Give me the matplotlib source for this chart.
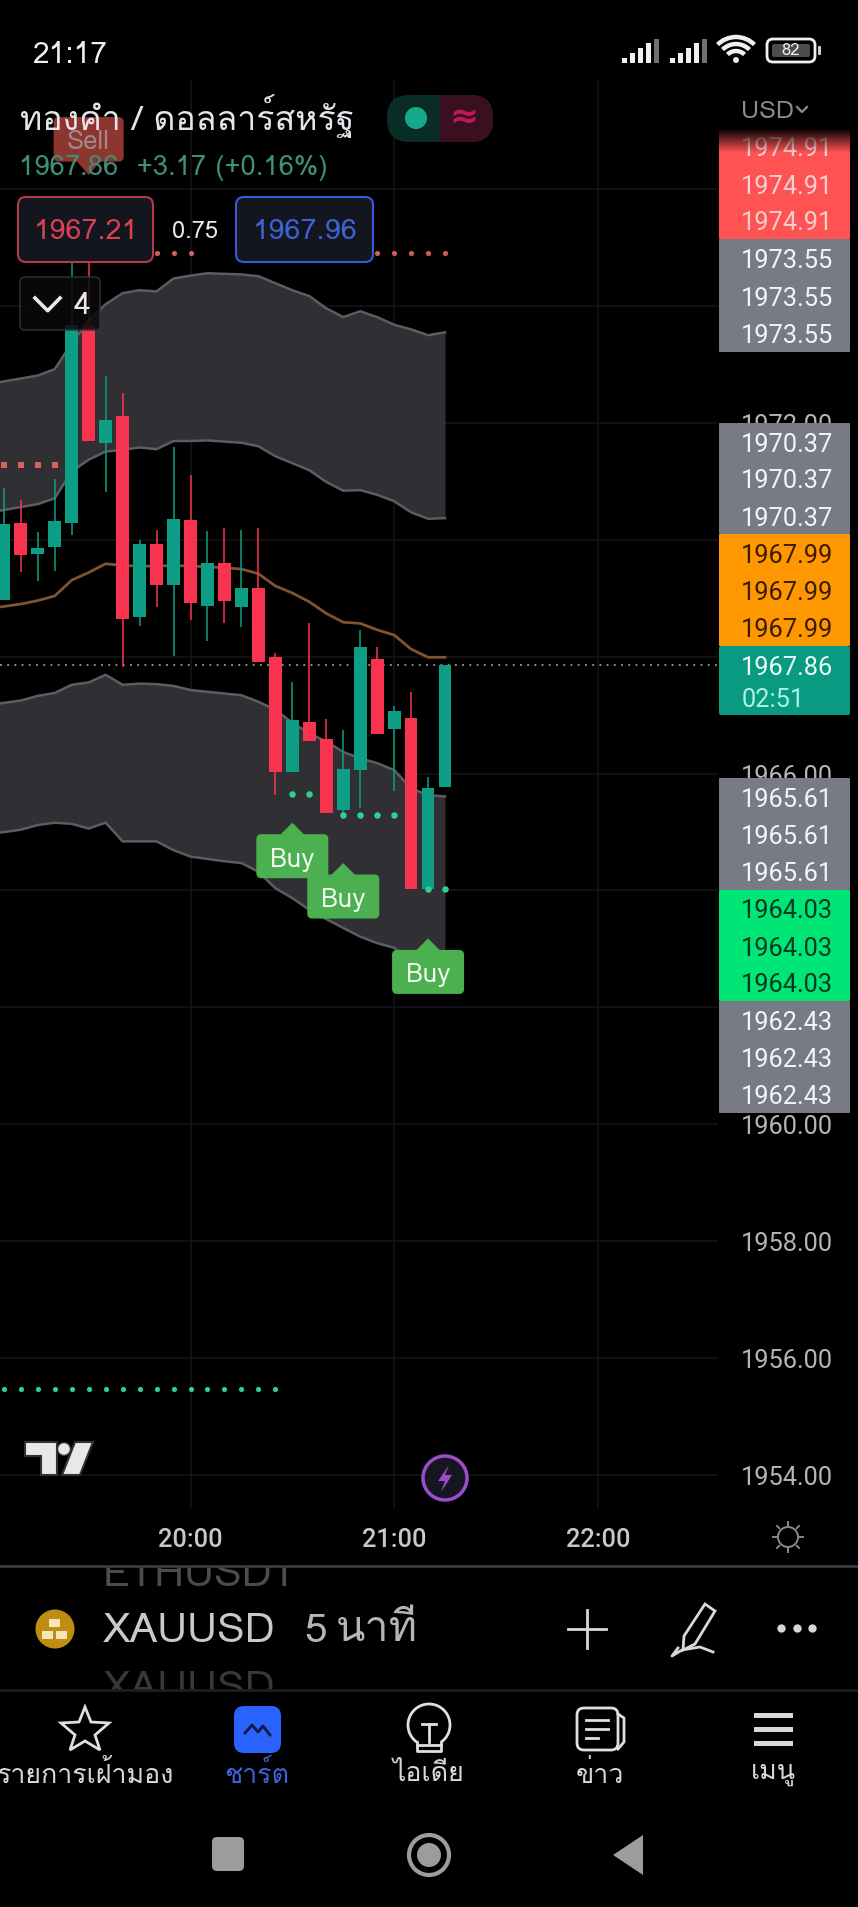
import matplotlib
matplotlib.use("Agg")
import matplotlib.pyplot as plt
from matplotlib import font_manager as fm
from matplotlib.patches import Rectangle, FancyBboxPatch, Circle, Polygon, Arc
from matplotlib.ft2font import FT2Font

# bars are counted from the 20:00 candle, one bar = 5 minutes
bar_idx = list(range(-11, 16))
band_bars = list(range(-12, 16))

opens = [1968.97, 1970.29, 1969.76, 1969.88, 1970.29, 1973.68, 1971.66, 1972.11, 1968.68,
         1969.92, 1969.22, 1970.34, 1968.86, 1969.61, 1968.85, 1969.17, 1968.00, 1966.03,
         1966.88, 1966.59, 1965.38, 1966.06, 1967.96, 1966.77, 1966.95, 1964.03, 1965.77]
closes = [1970.27, 1969.74, 1969.86, 1970.32, 1973.68, 1971.69, 1972.05, 1968.65, 1969.93,
          1969.23, 1970.36, 1968.92, 1969.60, 1968.95, 1969.17, 1967.91, 1966.03, 1966.91,
          1966.56, 1965.33, 1966.08, 1968.17, 1966.68, 1967.07, 1964.03, 1965.76, 1967.86]
highs = [1970.89, 1970.68, 1970.14, 1971.04, 1974.75, 1974.75, 1972.80, 1972.51, 1970.00,
         1970.17, 1971.59, 1971.11, 1970.15, 1970.20, 1970.17, 1970.20, 1968.06, 1967.57,
         1968.57, 1966.93, 1966.75, 1968.46, 1968.17, 1967.16, 1967.39, 1965.94, 1967.86]
lows = [1968.97, 1969.45, 1969.30, 1969.47, 1970.08, 1971.69, 1970.81, 1967.83, 1968.53,
        1968.85, 1968.01, 1968.63, 1968.27, 1968.58, 1968.51, 1967.91, 1965.63, 1966.03,
        1966.56, 1965.33, 1965.29, 1965.41, 1966.68, 1965.71, 1964.03, 1964.03, 1965.77]

band_1 = [1972.66, 1972.71, 1972.76, 1972.81, 1972.92, 1973.36, 1973.75, 1974.03, 1974.22, 1974.27,
          1974.25, 1974.47, 1974.52, 1974.56, 1974.55, 1974.54, 1974.51, 1974.39, 1974.27,
          1974.17, 1973.96, 1973.81, 1973.91, 1973.81, 1973.68, 1973.60, 1973.50, 1973.55]
band_2 = [1970.46, 1970.51, 1970.56, 1970.61, 1970.71, 1971.17, 1971.37, 1971.51, 1971.54, 1971.58,
          1971.55, 1971.69, 1971.69, 1971.70, 1971.68, 1971.66, 1971.60, 1971.43, 1971.31,
          1971.19, 1970.99, 1970.84, 1970.85, 1970.77, 1970.66, 1970.47, 1970.36, 1970.37]
mid_line = [1968.82, 1968.86, 1968.90, 1968.96, 1969.04, 1969.31, 1969.44, 1969.59, 1969.56, 1969.55,
            1969.55, 1969.56, 1969.55, 1969.54, 1969.52, 1969.50, 1969.42, 1969.21, 1969.09,
            1968.94, 1968.74, 1968.59, 1968.57, 1968.46, 1968.37, 1968.13, 1967.99, 1967.99]
band_3 = [1967.17, 1967.21, 1967.25, 1967.33, 1967.38, 1967.52, 1967.56, 1967.69, 1967.52, 1967.54,
          1967.53, 1967.50, 1967.43, 1967.40, 1967.37, 1967.34, 1967.23, 1967.09, 1966.87,
          1966.69, 1966.55, 1966.37, 1966.26, 1966.18, 1966.06, 1965.75, 1965.63, 1965.61]
band_4 = [1964.96, 1965.00, 1965.04, 1965.12, 1965.16, 1965.14, 1965.06, 1965.16, 1964.84, 1964.84,
          1964.84, 1964.69, 1964.58, 1964.54, 1964.50, 1964.47, 1964.32, 1964.04, 1963.87,
          1963.67, 1963.51, 1963.36, 1963.21, 1963.10, 1963.02, 1962.81, 1962.61, 1962.43]

red_dot_bars = [-11, -10, -9, -8]
red_dot_price = 1971.28
red_top_bars = [-4, -3, -2, -1, 0, 11, 12, 13, 14, 15]
red_top_price = 1974.91
green_dots = [(6, 1965.65), (7, 1965.65), (9, 1965.30), (10, 1965.30), (11, 1965.30), (12, 1965.30),
              (14, 1964.03), (15, 1964.03)]
low_dot_bars = list(range(-11, 6))
low_dot_price = 1955.47

buy_bars = [6, 9, 14]
buy_prices = [1965.16, 1964.47, 1963.18]
sell_bar = -6
sell_price = 1976.24

y_ticks = [1976, 1974, 1972, 1970, 1968, 1966, 1964, 1962, 1960, 1958, 1956, 1954]
y_labels = {1972: "1972.00", 1966: "1966.00", 1960: "1960.00", 1958: "1958.00", 1956: "1956.00", 1954: "1954.00"}
hour_bars = [0, 12, 24]
hour_labels = ["20:00", "21:00", "22:00"]
last_price = 1967.86

# price scale blocks: text, three rows each
tag_text = ["1974.91", "1973.55", "1970.37", "1967.99", "1965.61", "1964.03", "1962.43"]
tag_colors = ["#ff5252", "#787b86", "#787b86", "#ff9800", "#787b86", "#00e676", "#787b86"]
tag_ink = ["#f5d0d0", "#f4f4f6", "#f4f4f6", "#3a1c00", "#f4f4f6", "#063a20", "#f4f4f6"]
tag_top = [128, 239, 423, 534, 778, 890, 1001]
tag_bottom = [239, 352, 534, 646, 890, 1001, 1113]

UP = "#0e9e85"
DOWN = "#f7334f"
GRID = "#141416"
BAND = "#2f2f34"
BAND_LINE = "#5c5c62"
BUY = "#4caf50"
SELL = "#8f3530"
TEXT_DY = 3  # digits sit a little high with va=center


def find_thai_font():
    for f in fm.fontManager.ttflist:
        try:
            if 0x0E17 in FT2Font(f.fname).get_charmap():
                return f.name
        except Exception:
            pass
    return None


thai = find_thai_font()
latin = ["Roboto", "DejaVu Sans"]
fonts = ([thai] if thai else []) + latin
plt.rcParams["font.family"] = latin

W, H = 858, 1907
fig = plt.figure(figsize=(W / 100, H / 100), dpi=100, facecolor="black")

# chart axes: bar index / price, the scale is set so it lines up with the screenshot
STEP = 16.97
PX_PER_UNIT = 58.45
ax = fig.add_axes([0, 0, 1, 1], zorder=1)
ax.set_xlim((0 - 190.5) / STEP, (W - 190.5) / STEP)
ax.set_ylim(1954 - (H - 1475) / PX_PER_UNIT, 1954 + 1475 / PX_PER_UNIT)
ax.axis("off")
right_edge = (718 - 190.5) / STEP

for p in y_ticks:
    ax.hlines(p, ax.get_xlim()[0], right_edge, color=GRID, lw=1.2, zorder=1)
for b in hour_bars:
    ax.vlines(b, 1954 - 33 / PX_PER_UNIT, 1954 + 1395 / PX_PER_UNIT, color=GRID, lw=1.2, zorder=1)

ax.fill_between(band_bars, band_1, band_2, color=BAND, lw=0, zorder=2)
ax.fill_between(band_bars, band_3, band_4, color=BAND, lw=0, zorder=2)
for band in [band_1, band_2, band_3, band_4]:
    ax.plot(band_bars, band, color=BAND_LINE, lw=1.8, zorder=3)
ax.plot(band_bars, mid_line, color="#7f5430", lw=2, zorder=3)
ax.hlines(last_price, ax.get_xlim()[0], right_edge, color="#9a9a9a", lw=1.3, linestyles=(0, (1, 3)), zorder=3)

for i, o, c, hi, lo in zip(bar_idx, opens, closes, highs, lows):
    col = UP if c >= o else DOWN
    ax.vlines(i, lo, hi, color=col, lw=1.3, alpha=0.85, zorder=4)
    ax.bar(i, abs(c - o), bottom=min(o, c), width=0.75, color=col, lw=0, zorder=5)

ax.scatter(red_dot_bars, [red_dot_price] * len(red_dot_bars), s=16, marker="s", color="#d9605c", lw=0, zorder=6)
ax.scatter(red_top_bars, [red_top_price] * len(red_top_bars), s=14, color="#c9605c", lw=0, zorder=6)
ax.scatter([d[0] for d in green_dots], [d[1] for d in green_dots], s=22, color="#2fd08f", lw=0, zorder=6)
ax.scatter(low_dot_bars, [low_dot_price] * len(low_dot_bars), s=14, color="#2fd08f", lw=0, zorder=6)

# screen furniture in plain screenshot pixels on top of the chart
ui = fig.add_axes([0, 0, 1, 1], zorder=2)
ui.set_xlim(0, W)
ui.set_ylim(H, 0)
ui.axis("off")
ui.patch.set_alpha(0)


def bar_px(b):
    return 190.5 + b * STEP


def price_px(p):
    return 1475 - (p - 1954) * PX_PER_UNIT


def txt(x, y, s, size, color="#e6e6e6", ha="left", weight="normal", z=10, fam=None):
    return ui.text(x, y, s, fontsize=size, color=color, ha=ha, va="center", fontweight=weight,
                   zorder=z, family=fam or fonts)


def rbox(x0, y0, x1, y1, r=4, fc="none", ec="none", lw=1.5, z=9, alpha=None):
    ui.add_patch(FancyBboxPatch((x0 + r, y0 + r), x1 - x0 - 2 * r, y1 - y0 - 2 * r,
                                boxstyle=f"round,pad={r},rounding_size={r}", fc=fc, ec=ec, lw=lw, zorder=z, alpha=alpha))


# buy and sell flags hang off the bar and price they belong to
for b, p in zip(buy_bars, buy_prices):
    cx, tip = bar_px(b), price_px(p)
    ui.add_patch(Polygon([(cx, tip), (cx + 12, tip + 12), (cx - 12, tip + 12)], fc=BUY, lw=0, zorder=7))
    rbox(cx - 36, tip + 11.5, cx + 36, tip + 55.5, r=5, fc=BUY, z=7)
    txt(cx, tip + 37, "Buy", 18.5, "#f2faf2", ha="center", z=8)
sx, stip = bar_px(sell_bar), price_px(sell_price)
ui.add_patch(Polygon([(sx, stip), (sx + 12, stip - 14), (sx - 12, stip - 14)], fc=SELL, lw=0, zorder=6))
rbox(sx - 35, stip - 58, sx + 35, stip - 13.5, r=5, fc=SELL, z=6)
txt(sx, stip - 33, "Sell", 18.5, "#a08a88", ha="center", z=6.5)

# price scale
for p, s in y_labels.items():
    ui.text(833, price_px(p) + TEXT_DY, s, fontsize=18.3, color="#b4b4b4", ha="right", va="center", zorder=7)
for s, col, ink, t, b in zip(tag_text, tag_colors, tag_ink, tag_top, tag_bottom):
    rbox(719, t, 850, b, r=1, fc=col, z=8)
    row = (b - t) / 3
    for k in range(3):
        ui.text(833, t + row * (k + 0.5) + TEXT_DY, s, fontsize=18.3, color=ink, ha="right", va="center", zorder=9)
# the top tag fades away under the header
for k in range(24):
    ui.add_patch(Rectangle((717, 128 + k), 135, 1.2, fc="black", alpha=1 - k / 24, lw=0, zorder=9.5))
rbox(719, 646, 850, 715, r=2, fc="#0a9981", z=8)
ui.text(833, 665 + TEXT_DY, "1967.86", fontsize=18.3, color="#e9fbf6", ha="right", va="center", zorder=9)
ui.text(742, 697 + TEXT_DY, "02:51", fontsize=18.3, color="#a6f5e0", ha="left", va="center", zorder=9)
txt(741, 108 + TEXT_DY, "USD", 18, "#8c8c8c")
ui.plot([797, 802, 807], [107, 112, 107], color="#8c8c8c", lw=1.6, zorder=10)

# time axis
for b, s in zip(hour_bars, hour_labels):
    ui.text(bar_px(b), 1537 + TEXT_DY, s, fontsize=18.3, color="#c8c8c8", ha="center", va="center", fontweight="medium", zorder=7)
ui.add_patch(Circle((788, 1537), 10, fc="none", ec="#8a8a8a", lw=1.4, zorder=7))
for dx, dy in [(0, -15), (0, 15), (15, 0), (-15, 0), (11, -11), (-11, -11), (11, 11), (-11, 11)]:
    ui.plot([788 + dx * 0.8, 788 + dx], [1537 + dy * 0.8, 1537 + dy], color="#8a8a8a", lw=1.4, zorder=7)

# status bar
txt(32, 52 + TEXT_DY, "21:17", 21.5, "#f0f0f0", weight="medium")
for x0 in [622, 670]:
    for k, h in enumerate([5, 10, 15, 20, 24]):
        col = "#f0f0f0" if k < 4 else "#707070"
        ui.add_patch(Rectangle((x0 + k * 8, 63 - h), 5, h, fc=col, lw=0, zorder=10))
for r in [7, 14, 21]:
    ui.add_patch(Arc((736, 63), 2 * r + 10, 2 * r + 10, theta1=225, theta2=315, ec="#f0f0f0", lw=3.2, zorder=10))
ui.add_patch(Circle((736, 60), 3, fc="#f0f0f0", lw=0, zorder=10))
rbox(767, 39, 815, 62, r=6, ec="#f0f0f0", lw=2, z=10)
rbox(772, 44, 810, 57, r=2, fc="#4c4c4c", z=10)
txt(791, 51, "82", 12, "#f0f0f0", ha="center", z=11)
rbox(818, 46, 821, 55, r=1, fc="#d0d0d0", z=10)

# header
txt(20, 116, "ทองคำ / ดอลลาร์สหรัฐ", 24.4, "#e4e4ea", z=9)
txt(19, 165 + TEXT_DY, "1967.86  +3.17 (+0.16%)", 19.8, "#3f8f78", z=9)
rbox(387, 95, 493, 142, r=22, fc="#0a2c27", z=9)
ui.add_patch(Rectangle((440, 95), 31, 47, fc="#3a0f20", lw=0, zorder=9))
rbox(445, 95, 493, 142, r=22, fc="#3a0f20", z=9)
ui.add_patch(Circle((416, 118), 11, fc="#14ab8c", lw=0, zorder=10))
txt(464, 118, "≈", 25, "#c2185b", ha="center", weight="bold", fam=["DejaVu Sans"])

rbox(18, 197, 153, 262, r=8, fc="#13151f", ec="#b33c46", lw=1.5)
txt(86, 229 + TEXT_DY, "1967.21", 20.8, "#d9414f", ha="center")
txt(195, 229 + TEXT_DY, "0.75", 17, "#ececec", ha="center")
rbox(236, 197, 373, 262, r=8, fc="#13151f", ec="#3a5bd0", lw=1.5)
txt(305, 229 + TEXT_DY, "1967.96", 20.8, "#3a63d6", ha="center")
rbox(20, 277, 100, 330, r=5, fc="#0a0a0a", ec="#333338", lw=1.2, alpha=0.85)
ui.plot([35, 47.7, 60], [298, 310.7, 298], color="#e8e8e8", lw=2.6, zorder=10)
txt(82, 303 + TEXT_DY, "4", 22, "#e8e8e8", ha="center")

# logo and lightning badge
ui.add_patch(Polygon([(25, 1442), (57, 1442), (57, 1475), (41, 1475), (41, 1456), (25, 1456)], fc="#e8e8e8", ec="#30303a", lw=1.5, zorder=7))
ui.add_patch(Circle((64, 1449), 6.5, fc="#e8e8e8", ec="#30303a", lw=1, zorder=7))
ui.add_patch(Polygon([(75, 1442), (93, 1442), (80, 1475), (62, 1475)], fc="#e8e8e8", ec="#30303a", lw=1.5, zorder=7))
ui.add_patch(Circle((445, 1478), 22, fc="#161620", ec="#9c4dcc", lw=2.5, zorder=7))
ui.add_patch(Polygon([(449, 1465), (438, 1481), (445, 1481), (441, 1492), (452, 1475), (445, 1475)], fc="#9c4dcc", lw=0, zorder=8))

# symbol bar
ui.plot([0, W], [1566, 1566], color="#3a3a46", lw=2, zorder=6)
txt(103, 1576, "ETHUSDT", 29.8, "#4c4c4c", weight="medium", z=3)
ui.add_patch(Rectangle((0, 1550), W, 15.5, fc="black", lw=0, zorder=4))
txt(103, 1690, "XAUUSD", 29.8, "#383838", weight="medium", z=3)
ui.add_patch(Rectangle((0, 1690), W, 20, fc="black", lw=0, zorder=4))
ui.plot([0, W], [1690, 1690], color="#1e1e22", lw=2, zorder=6)
ui.add_patch(Circle((55, 1629), 19.5, fc="#c08d12", lw=0, zorder=7))
for x0, y0 in [(49, 1619), (42, 1631), (56, 1631)]:
    ui.add_patch(Rectangle((x0, y0), 11, 8, fc="#f5e6b8", lw=0, zorder=8))
txt(103, 1629 + TEXT_DY, "XAUUSD", 29.8, "#c9c9c9", weight="medium")
txt(304, 1629 + TEXT_DY, "5", 29, "#b5b5b5", weight="medium")
txt(336, 1630, "นาที", 31, "#b5b5b5")
ui.plot([568, 606], [1629, 1629], color="#d8d8d8", lw=2, zorder=10)
ui.plot([587, 587], [1610, 1648], color="#d8d8d8", lw=2, zorder=10)
ui.add_patch(Polygon([(705, 1604), (715, 1611), (695, 1644), (683, 1650), (684, 1636)], fc="none", ec="#d8d8d8", lw=2, zorder=10))
ui.plot([678, 672, 682, 700, 713], [1648, 1656, 1650, 1647, 1652], color="#d8d8d8", lw=2, zorder=10)
ui.scatter([781, 797, 812], [1628, 1628, 1628], s=36, color="#d8d8d8", lw=0, zorder=10)

# bottom nav
star = [(85, 1707), (91, 1722), (109, 1723), (95, 1735), (100, 1750), (85, 1741), (70, 1750), (75, 1735), (61, 1723), (79, 1722)]
ui.add_patch(Polygon(star, fc="none", ec="#e0e0e0", lw=2, zorder=10))
rbox(234, 1706, 281, 1753, r=10, fc="#2962ff", z=10)
ui.plot([245, 252, 258, 263, 270], [1733, 1725, 1732, 1726, 1735], color="#101a40", lw=2, zorder=11)
ui.add_patch(Arc((429, 1725), 42, 42, theta1=125, theta2=55, ec="#e0e0e0", lw=2, zorder=10))
ui.plot([417, 417, 441, 441], [1742, 1751, 1751, 1742], color="#e0e0e0", lw=2, zorder=10)
ui.plot([417, 441], [1745, 1745], color="#e0e0e0", lw=2, zorder=10)
ui.plot([422, 436], [1724, 1724], color="#e0e0e0", lw=2, zorder=10)
ui.plot([429, 429], [1724, 1742], color="#e0e0e0", lw=2, zorder=10)
rbox(577, 1708, 618, 1750, r=7, ec="#e0e0e0", lw=2, z=10)
ui.plot([618, 624, 624, 618], [1714, 1718, 1742, 1749], color="#e0e0e0", lw=2, zorder=10)
for y0, x1 in [(1720, 608), (1729, 608), (1738, 598)]:
    ui.plot([586, x1], [y0, y0], color="#e0e0e0", lw=2, zorder=10)
for y0 in [1715, 1729, 1743]:
    ui.add_patch(Rectangle((754, y0 - 2.5), 39, 5, fc="#d8d8d8", lw=0, zorder=10))

txt(85, 1774, "รายการเฝ้ามอง", 19.3, "#d8d8d8", ha="center")
txt(257, 1774, "ชาร์ต", 19.3, "#3f62d8", ha="center")
txt(429, 1774, "ไอเดีย", 19.3, "#d8d8d8", ha="center")
txt(600, 1774, "ข่าว", 19.3, "#d8d8d8", ha="center")
txt(773, 1774, "เมนู", 19.3, "#d8d8d8", ha="center")

# android nav
rbox(212, 1837, 244, 1871, r=5, fc="#9c9c9c", z=10)
ui.add_patch(Circle((429, 1855), 20, fc="none", ec="#9c9c9c", lw=3, zorder=10))
ui.add_patch(Circle((429, 1855), 12, fc="#9c9c9c", lw=0, zorder=10))
ui.add_patch(Polygon([(643, 1835), (643, 1875), (613, 1855)], fc="#9c9c9c", lw=0, zorder=10))

fig.savefig("out.png", dpi=100, facecolor="black")
